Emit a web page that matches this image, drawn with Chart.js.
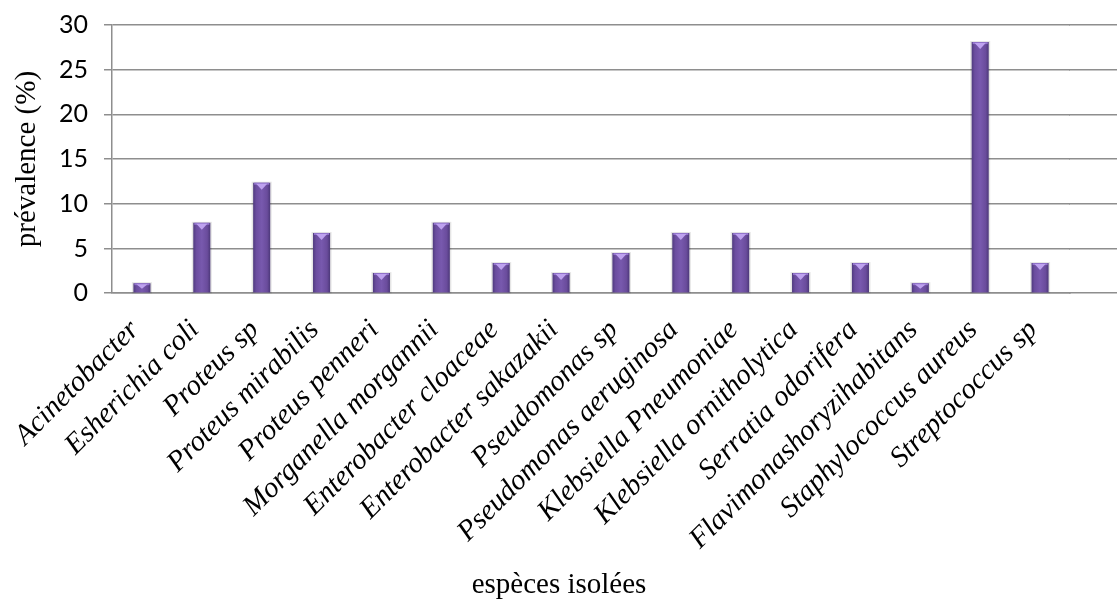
<!DOCTYPE html>
<html>
<head>
<meta charset="utf-8">
<script src="https://cdn.jsdelivr.net/npm/chart.js@4"></script>
<style>
  html, body { margin: 0; padding: 0; background: #fff; }
  #wrap { width: 1118px; height: 603px; }
</style>
</head>
<body>
<div id="wrap"><canvas id="prevChart"></canvas></div>
<script>
// data (percent of isolates)
var especes = [
  "Acinetobacter",
  "Esherichia coli",
  "Proteus sp",
  "Proteus mirabilis",
  "Proteus penneri",
  "Morganella morgannii",
  "Enterobacter cloaceae",
  "Enterobacter sakazakii",
  "Pseudomonas sp",
  "Pseudomonas aeruginosa",
  "Klebsiella Pneumoniae",
  "Klebsiella ornitholytica",
  "Serratia odorifera",
  "Flavimonashoryzihabitans",
  "Staphylococcus aureus",
  "Streptococcus sp"
];
var prevalence = [1.12, 7.87, 12.36, 6.74, 2.25, 7.87, 3.37, 2.25, 4.49, 6.74, 6.74, 2.25, 3.37, 1.12, 28.09, 3.37];
var yTicks = [0, 5, 10, 15, 20, 25, 30];

var gridColor = "#8e8e8e";
var serif = "'Liberation Serif', 'Times New Roman', serif";

// same pixel snapping chart.js uses for its own grid lines
function snap(px, w) {
  return Math.round(px - w / 2) + w / 2;
}

// grid lines in the original run past the last bar to the right edge
const extendGrid = {
  id: "extendGrid",
  beforeDatasetsDraw(chart) {
    var ctx = chart.ctx;
    var area = chart.chartArea;
    var y = chart.scales.y;
    ctx.save();
    ctx.strokeStyle = gridColor;
    ctx.lineWidth = 1.5;
    y.ticks.forEach((t) => {
      var py = snap(y.getPixelForValue(t.value), 1.5);
      ctx.beginPath();
      ctx.moveTo(area.right - 1, py);
      ctx.lineTo(chart.width - 1, py);
      ctx.stroke();
    });
    ctx.restore();
  },
};

// cylinder look: side shading + light cap
const cylinder = {
  id: "cylinder",
  beforeDatasetsDraw(chart) {
    var ctx = chart.ctx;
    var bars = chart.getDatasetMeta(0).data;
    bars.forEach((bar) => {
      var l = bar.x - bar.width / 2;
      var r = bar.x + bar.width / 2;
      var g = ctx.createLinearGradient(l, 0, r, 0);
      g.addColorStop(0, "#4f3b7e");
      g.addColorStop(0.18, "#6b4d9f");
      g.addColorStop(0.5, "#7859ae");
      g.addColorStop(0.82, "#6a4c9c");
      g.addColorStop(1, "#4c3879");
      bar.options.backgroundColor = g;
    });
    // soft grey halo behind the bars
    ctx.save();
    ctx.fillStyle = "rgba(0,0,0,0.10)";
    bars.forEach((bar) => {
      ctx.fillRect(bar.x - bar.width / 2 - 1.5, bar.y - 1, bar.width + 3, bar.base - bar.y + 2);
    });
    ctx.restore();
  },
  afterDatasetsDraw(chart) {
    var ctx = chart.ctx;
    ctx.save();
    chart.getDatasetMeta(0).data.forEach((bar) => {
      var l = bar.x - bar.width / 2;
      var r = bar.x + bar.width / 2;
      var top = bar.y;
      var h = Math.min(6, (bar.base - bar.y) / 2);
      ctx.fillStyle = "#9274cc";
      ctx.fillRect(l + 1, top, r - l - 2, 2);
      ctx.fillStyle = "#bea2ef";
      ctx.beginPath();
      ctx.moveTo(l + 3, top + 1);
      ctx.lineTo(r - 3, top + 1);
      ctx.lineTo(bar.x, top + 1 + h);
      ctx.closePath();
      ctx.fill();
    });
    ctx.restore();
  },
};

var prevctx = document.getElementById("prevChart");
var prevChart = new Chart(prevctx, {
  type: "bar",
  data: {
    labels: especes,
    datasets: [
      {
        data: prevalence,
        label: "prévalence",
        // scriptable so each bar keeps its own options object
        backgroundColor: (c) => "#6e50a2",
        borderWidth: 0,
        categoryPercentage: 1,
        barPercentage: 0.285,
      },
    ],
  },
  plugins: [extendGrid, cylinder],
  options: {
    responsive: true,
    maintainAspectRatio: false,
    animation: false,
    layout: {
      padding: { top: 25, right: 0, left: 0, bottom: 0 },
    },
    plugins: {
      legend: { display: false },
      tooltip: { enabled: false },
      title: {
        display: true,
        position: "bottom",
        text: "espèces isolées",
        color: "#000",
        font: { family: serif, size: 29, weight: "normal" },
        padding: { top: 10, bottom: 0 },
      },
    },
    scales: {
      x: {
        grid: { display: false },
        border: { display: true, color: gridColor, width: 1.5 },
        ticks: {
          color: "#000",
          minRotation: 45,
          maxRotation: 45,
          autoSkip: false,
          padding: 12,
          labelOffset: -7,
          font: { family: serif, size: 29, style: "italic" },
        },
        afterFit: (s) => {
          s.height = 265;
        },
      },
      y: {
        min: 0,
        max: 30,
        afterBuildTicks: (s) => {
          s.ticks = yTicks.map((v) => ({ value: v }));
        },
        grid: { color: gridColor, lineWidth: 1.5, tickLength: 8 },
        border: { display: true, color: gridColor, width: 1.5 },
        ticks: {
          color: "#000",
          padding: 16,
          font: { family: "Lato, 'Open Sans', sans-serif", size: 25 },
        },
        title: {
          display: true,
          text: "prévalence (%)",
          color: "#000",
          font: { family: serif, size: 29 },
          padding: { top: 10, bottom: 0 },
        },
        afterFit: (s) => {
          s.width = 112;
          s.paddingTop = 0;
          s.paddingBottom = 0;
        },
      },
      // empty strip on the right where only the grid lines continue
      yRight: {
        position: "right",
        grid: { display: false },
        border: { display: false },
        ticks: { display: false },
        afterFit: (s) => {
          s.width = 48;
          s.paddingTop = 0;
          s.paddingBottom = 0;
        },
      },
    },
  },
});
</script>
</body>
</html>
